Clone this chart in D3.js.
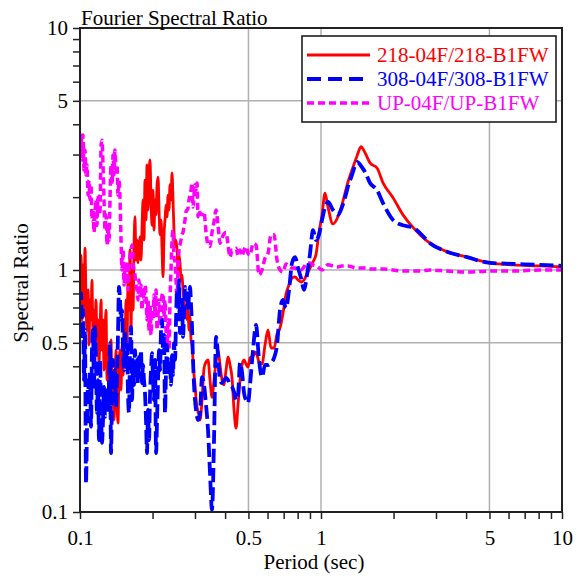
<!DOCTYPE html>
<html><head><meta charset="utf-8">
<script src="https://cdn.jsdelivr.net/npm/d3@7"></script>
<style>
body{margin:0;background:#fff}
svg{display:block}
text{font-family:"Liberation Serif","Times New Roman",serif;fill:#000}
</style>
</head><body>
<svg id="chart" width="578" height="581"></svg>
<script>
// ---- data ----
const periods = [
0.1000,0.1010,0.1019,0.1029,0.1039,0.1049,0.1059,0.1069,0.1080,0.1090,
0.1100,0.1111,0.1121,0.1132,0.1143,0.1154,0.1165,0.1176,0.1188,0.1199,
0.1211,0.1223,0.1234,0.1246,0.1258,0.1270,0.1282,0.1295,0.1307,0.1320,
0.1332,0.1345,0.1358,0.1371,0.1384,0.1397,0.1410,0.1424,0.1438,0.1451,
0.1466,0.1480,0.1494,0.1509,0.1523,0.1537,0.1552,0.1567,0.1582,0.1597,
0.1613,0.1628,0.1644,0.1660,0.1676,0.1691,0.1707,0.1724,0.1740,0.1757,
0.1774,0.1791,0.1808,0.1826,0.1843,0.1861,0.1879,0.1897,0.1915,0.1934,
0.1952,0.1971,0.1990,0.2009,0.2028,0.2048,0.2068,0.2088,0.2108,0.2128,
0.2148,0.2169,0.2190,0.2211,0.2232,0.2253,0.2275,0.2297,0.2319,0.2341,
0.2363,0.2386,0.2409,0.2432,0.2455,0.2479,0.2503,0.2527,0.2551,0.2576,
0.2600,0.2625,0.2650,0.2676,0.2702,0.2728,0.2754,0.2781,0.2807,0.2834,
0.2861,0.2889,0.2916,0.2944,0.2973,0.3001,0.3030,0.3059,0.3088,0.3118,
0.3148,
0.3209,0.3271,0.3334,0.3398,0.3463,0.3530,0.3598,0.3668,0.3739,0.3811,
0.3885,0.3960,0.4036,0.4114,0.4193,0.4274,0.4357,0.4440,0.4526,0.4613,
0.4702,0.4793,0.4885,0.4980,0.5076,
0.5223,0.5375,0.5531,0.5692,0.5858,0.6028,0.6204,0.6384,0.6569,0.6761,
0.6958,0.7160,0.7368,0.7582,0.7803,0.8029,0.8263,0.8503,0.8750,0.9005,
0.9265,0.9535,0.9812,
1.010,1.039,1.069,1.121,1.176,1.222,1.258,1.294,1.345,1.411,
1.466,1.523,1.597,1.708,1.809,1.990,2.189,2.408,2.575,2.834,
3.333,4.036,5.025,6.262,8.104,10.0
];

const ratio218 = [
0.752,1.15,0.622,1.05,0.683,1.23,0.752,0.565,0.827,0.490,
0.752,0.622,0.909,0.539,0.683,0.467,0.752,0.514,0.622,0.405,
0.565,0.752,0.467,0.622,0.386,0.539,0.683,0.351,0.467,0.290,
0.425,0.514,0.304,0.386,0.240,0.319,0.467,0.290,0.233,0.386,
0.467,0.319,0.490,0.368,0.622,0.490,0.752,0.467,0.909,0.683,
1.21,0.565,1.00,0.683,1.27,1.66,1.10,1.33,1.07,1.21,
1.37,1.10,1.46,1.95,1.33,2.35,1.61,2.72,1.77,2.47,
2.85,1.95,1.53,2.14,1.46,1.95,1.69,2.25,2.42,1.77,
1.40,1.61,1.21,0.936,1.40,1.61,1.86,1.66,2.04,1.77,
2.25,1.95,2.52,1.95,1.46,1.25,1.33,1.21,1.00,1.15,
1.07,0.909,0.954,0.827,0.752,0.640,0.717,0.622,0.683,0.565,
0.640,0.514,0.490,0.425,0.368,0.335,0.295,0.272,0.259,0.252,
0.240,
0.290,0.393,0.417,0.425,0.351,0.298,0.351,0.417,0.467,0.405,
0.351,0.335,0.386,0.437,0.405,0.358,0.264,0.222,0.277,0.351,
0.405,0.425,0.409,0.397,0.433,
0.441,0.458,0.417,0.409,0.490,0.565,0.476,0.476,0.544,0.576,
0.664,0.796,0.867,0.926,0.936,0.909,0.892,0.909,0.963,1.02,
1.08,1.16,1.43,
1.69,2.08,1.82,1.55,1.66,1.86,2.08,2.31,2.59,2.96,
3.23,3.05,2.77,2.64,2.29,1.99,1.69,1.50,1.40,1.29,
1.19,1.13,1.07,1.05,1.04,1.03
];

const ratio308 = [
0.752,0.803,0.514,0.683,0.351,0.565,0.131,0.218,0.351,0.290,
0.375,0.225,0.467,0.565,0.319,0.582,0.425,0.257,0.351,0.198,
0.425,0.264,0.193,0.240,0.329,0.247,0.290,0.319,0.264,0.351,
0.499,0.175,0.310,0.425,0.319,0.386,0.272,0.351,0.549,0.851,
0.752,0.622,0.683,0.467,0.386,0.565,0.425,0.490,0.304,0.257,
0.467,0.582,0.290,0.425,0.335,0.467,0.368,0.425,0.341,0.437,
0.386,0.467,0.341,0.405,0.351,0.310,0.240,0.175,0.264,0.198,
0.304,0.386,0.453,0.351,0.290,0.425,0.175,0.240,0.351,0.467,
0.386,0.565,0.622,0.467,0.539,0.257,0.386,0.490,0.368,0.425,
0.413,0.335,0.445,0.368,0.499,0.425,0.622,0.827,0.683,0.909,
0.549,0.622,0.752,0.529,0.652,0.851,0.752,0.827,0.683,0.788,
0.851,0.717,0.582,0.425,0.335,0.290,0.264,0.247,0.240,0.245,
0.257,
0.361,0.335,0.277,0.218,0.145,0.102,0.198,0.529,0.445,0.351,
0.341,0.351,0.358,0.351,0.335,0.329,0.313,0.290,0.304,0.413,
0.379,0.310,0.290,0.282,0.335,
0.467,0.593,0.425,0.361,0.405,0.405,0.413,0.433,0.490,0.683,
0.752,0.696,0.827,1.07,1.13,1.02,0.926,0.827,0.954,1.17,
1.46,1.33,1.40,
1.61,1.82,1.91,1.77,1.69,1.82,1.99,2.21,2.47,2.80,
2.69,2.54,2.29,2.14,1.89,1.61,1.53,1.50,1.42,1.29,
1.19,1.13,1.07,1.06,1.05,1.04
];

const ratioUP = [
3.44,3.68,2.85,3.61,2.59,3.13,2.47,2.72,2.04,2.35,
1.95,2.25,1.61,1.77,1.43,1.69,1.95,1.53,2.04,1.69,
1.77,3.29,3.44,2.72,1.95,1.46,1.69,1.27,1.53,1.33,
1.95,2.72,2.25,2.99,2.47,3.13,2.59,2.72,2.04,2.35,
1.95,1.33,1.00,1.21,0.867,1.00,0.926,1.08,0.827,1.00,
1.15,1.21,1.27,1.08,1.00,0.954,0.867,0.827,0.752,0.909,
0.788,0.867,0.683,0.827,0.752,0.867,0.788,0.622,0.752,0.565,
0.717,0.539,0.683,0.622,0.788,0.652,0.827,0.565,0.652,0.752,
0.593,0.683,0.788,0.803,0.634,0.752,0.565,0.490,0.622,0.467,
0.752,1.00,1.33,1.46,1.12,1.08,0.909,0.752,1.00,1.21,
1.27,1.33,1.40,1.43,1.53,1.61,1.74,1.77,1.80,1.95,
2.04,2.14,2.29,1.82,2.04,2.25,2.14,2.29,1.66,1.77,
1.72,
1.69,1.74,1.43,1.27,1.25,1.43,1.58,1.77,1.53,1.29,
1.36,1.41,1.43,1.27,1.13,1.21,1.21,1.23,1.15,1.21,
1.14,1.21,1.25,1.17,1.15,
1.29,1.27,0.954,1.00,1.12,1.17,1.40,1.40,1.10,1.00,
0.981,1.06,1.04,1.02,1.02,1.00,1.00,1.03,1.07,1.07,
1.05,1.04,1.02,
1.00,1.03,1.05,1.04,1.03,1.04,1.04,1.04,1.03,1.02,
1.02,1.02,1.01,1.01,1.01,1.00,0.99,0.99,0.99,1.00,
0.99,0.98,0.99,0.99,1.00,1.00
];

const seriesNames  = ["218-04F/218-B1FW", "308-04F/308-B1FW", "UP-04F/UP-B1FW"];
const seriesColors = ["#ff0000", "#0000ff", "#ff00ff"];
const xTickLabels = [0.1, 0.5, 1, 5, 10];
const yTickLabels = [0.1, 0.5, 1, 5, 10];
const gridValues  = [0.5, 1, 5];
const titleText = "Fourier Spectral Ratio";
const xTitle = "Period (sec)";
const yTitle = "Spectral Ratio";

// ---- chart ----
const svg = d3.select("#chart");
const L = 80, R = 562, T = 28, B = 512;
const x = d3.scaleLog().domain([0.1, 10]).range([L, R]);
const y = d3.scaleLog().domain([0.1, 10]).range([B, T]);
const FS = 21;

const isIn = (arr, d) => arr.some(v => Math.abs(d / v - 1) < 1e-6);
const lbl = (arr) => d => { const v = arr.find(v => Math.abs(d / v - 1) < 1e-6); return v === undefined ? "" : String(v); };

// grid
const grid = svg.append("g").attr("stroke", "#b0b0b0").attr("stroke-width", 1.5);
gridValues.forEach(v => {
  grid.append("line").attr("x1", x(v)).attr("x2", x(v)).attr("y1", T).attr("y2", B);
  grid.append("line").attr("x1", L).attr("x2", R).attr("y1", y(v)).attr("y2", y(v));
});

// series
const clip = svg.append("clipPath").attr("id", "clip").append("rect")
  .attr("x", L).attr("y", T).attr("width", R - L).attr("height", B - T);
const plot = svg.append("g").attr("clip-path", "url(#clip)");
const line = vals => d3.line().curve(d3.curveMonotoneX)
  .x((d, i) => x(periods[i])).y(d => y(d))(vals);

plot.append("path").attr("d", line(ratio218)).attr("fill", "none")
  .attr("stroke", seriesColors[0]).attr("stroke-width", 2.8).attr("stroke-linejoin", "round");
plot.append("path").attr("d", line(ratioUP)).attr("fill", "none")
  .attr("stroke", seriesColors[2]).attr("stroke-width", 3.5).attr("stroke-dasharray", "7,4");
plot.append("path").attr("d", line(ratio308)).attr("fill", "none")
  .attr("stroke", seriesColors[1]).attr("stroke-width", 3.8).attr("stroke-dasharray", "14,5");

// axes
const xAxis = d3.axisBottom(x).tickValues(x.ticks()).tickFormat(lbl(xTickLabels))
  .tickSize(7).tickSizeOuter(0).tickPadding(11);
const gx = svg.append("g").attr("transform", `translate(0,${B})`).call(xAxis);
gx.select(".domain").remove();
gx.selectAll("line").attr("stroke", "#222").attr("stroke-width", 1.5);
gx.selectAll("text").attr("font-size", FS).attr("font-family", "Liberation Serif");

const yAxis = d3.axisLeft(y).tickValues(y.ticks()).tickFormat(lbl(yTickLabels))
  .tickSize(7).tickSizeOuter(0).tickPadding(5);
const gy = svg.append("g").attr("transform", `translate(${L},0)`).call(yAxis);
gy.select(".domain").remove();
gy.selectAll("line").attr("stroke", "#222").attr("stroke-width", 1.5);
gy.selectAll("text").attr("font-size", FS).attr("font-family", "Liberation Serif");

// frame
svg.append("rect").attr("x", L).attr("y", T).attr("width", R - L).attr("height", B - T)
  .attr("fill", "none").attr("stroke", "#222").attr("stroke-width", 2);

// titles
svg.append("text").attr("x", 81).attr("y", 25).attr("font-size", FS).text(titleText);
svg.append("text").attr("x", 314).attr("y", 569).attr("text-anchor", "middle")
  .attr("font-size", FS).text(xTitle);
svg.append("text").attr("transform", "translate(28,283) rotate(-90)")
  .attr("text-anchor", "middle").attr("font-size", FS).text(yTitle);

// legend
const lg = svg.append("g");
lg.append("rect").attr("x", 302).attr("y", 36).attr("width", 254).attr("height", 86)
  .attr("fill", "#fff").attr("stroke", "#111").attr("stroke-width", 1.5);
const dashes = [null, "14,7", "7,4"];
const widths = [2.8, 3.8, 3.5];
seriesNames.forEach((name, i) => {
  const yy = 55 + i * 24;
  lg.append("line").attr("x1", 307).attr("x2", 370).attr("y1", yy).attr("y2", yy)
    .attr("stroke", seriesColors[i]).attr("stroke-width", widths[i])
    .attr("stroke-dasharray", dashes[i]);
  lg.append("text").attr("x", 377).attr("y", yy + 7).attr("font-size", FS)
    .style("fill", seriesColors[i]).text(name);
});
</script>
</body></html>
